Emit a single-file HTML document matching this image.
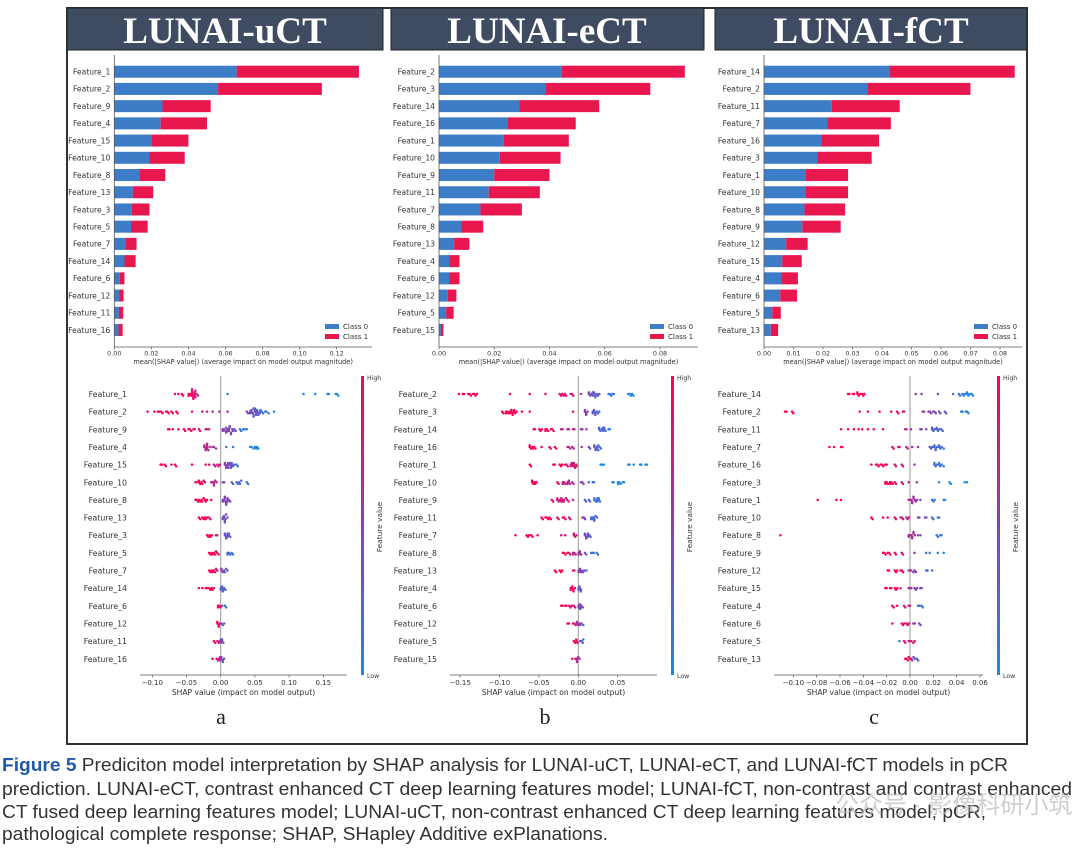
<!DOCTYPE html>
<html><head><meta charset="utf-8"><style>
html,body{margin:0;padding:0;background:#fff;width:1080px;height:849px;overflow:hidden}
svg{display:block}
</style></head><body>
<svg id="fig" width="1080" height="849" viewBox="0 0 1080 849" xmlns="http://www.w3.org/2000/svg">
<defs>
<linearGradient id="cbar" x1="0" y1="1" x2="0" y2="0">
<stop offset="0" stop-color="#1e88e5"/><stop offset="0.5" stop-color="#8a3fb5"/><stop offset="1" stop-color="#ff0052"/>
</linearGradient>
</defs>
<rect x="67" y="8" width="960" height="736" fill="none" stroke="#333" stroke-width="2"/>
<g><rect x="67" y="8" width="316" height="42" fill="#3f4b60" stroke="#222" stroke-width="1"/><text x="225" y="43" text-anchor="middle" font-family="Liberation Serif, serif" font-weight="bold" font-size="37" fill="#fff">LUNAI-uCT</text></g>
<g><rect x="391" y="8" width="313" height="42" fill="#3f4b60" stroke="#222" stroke-width="1"/><text x="547" y="43" text-anchor="middle" font-family="Liberation Serif, serif" font-weight="bold" font-size="37" fill="#fff">LUNAI-eCT</text></g>
<g><rect x="715" y="8" width="312" height="42" fill="#3f4b60" stroke="#222" stroke-width="1"/><text x="871" y="43" text-anchor="middle" font-family="Liberation Serif, serif" font-weight="bold" font-size="37" fill="#fff">LUNAI-fCT</text></g>
<g id="charts"></g>
<text x="221" y="724" text-anchor="middle" font-family="Liberation Serif, serif" font-size="22" fill="#222">a</text>
<text x="545" y="724" text-anchor="middle" font-family="Liberation Serif, serif" font-size="22" fill="#222">b</text>
<text x="874" y="724" text-anchor="middle" font-family="Liberation Serif, serif" font-size="22" fill="#222">c</text>
<g font-family="Liberation Sans, sans-serif" font-size="18" fill="#333">
<text x="2" y="771" textLength="1006" lengthAdjust="spacingAndGlyphs"><tspan fill="#1f5aa6" font-weight="bold">Figure 5</tspan>   Prediciton model interpretation by SHAP analysis for LUNAI-uCT, LUNAI-eCT, and LUNAI-fCT models in pCR</text>
<text x="2" y="795" textLength="1070" lengthAdjust="spacingAndGlyphs">prediction. LUNAI-eCT, contrast enhanced CT deep learning features model; LUNAI-fCT, non-contrast and contrast enhanced</text>
<text x="2" y="818" textLength="984" lengthAdjust="spacingAndGlyphs">CT fused deep learning features model; LUNAI-uCT, non-contrast enhanced CT deep learning features model; pCR,</text>
<text x="2" y="840" textLength="606" lengthAdjust="spacingAndGlyphs">pathological complete response; SHAP, SHapley Additive exPlanations.</text>
</g>
<text x="835" y="813" font-family="Liberation Sans, 'Noto Sans CJK SC', sans-serif" font-size="24" fill="#bbb" opacity="0.7">公众号 · 影像科研小筑</text>
</svg>
<script>
// ---------- Bar chart data (mean |SHAP|): class 0 and class 1 ----------
const barFeaturesA = ["Feature_1","Feature_2","Feature_9","Feature_4","Feature_15","Feature_10","Feature_8","Feature_13","Feature_3","Feature_5","Feature_7","Feature_14","Feature_6","Feature_12","Feature_11","Feature_16"];
const barClass0A = [0.066,0.056,0.026,0.025,0.020,0.019,0.0135,0.010,0.0095,0.009,0.006,0.0055,0.003,0.0028,0.0025,0.0023];
const barClass1A = [0.066,0.056,0.026,0.025,0.020,0.019,0.014,0.011,0.0095,0.009,0.006,0.006,0.0025,0.0022,0.0023,0.0022];
const barTicksA = [0,0.02,0.04,0.06,0.08,0.10,0.12];
const barTickLabelsA = ["0.00","0.02","0.04","0.06","0.08","0.10","0.12"];

const barFeaturesB = ["Feature_2","Feature_3","Feature_14","Feature_16","Feature_1","Feature_10","Feature_9","Feature_11","Feature_7","Feature_8","Feature_13","Feature_4","Feature_6","Feature_12","Feature_5","Feature_15"];
const barClass0B = [0.0445,0.0385,0.029,0.0247,0.0235,0.022,0.020,0.018,0.015,0.008,0.0055,0.0038,0.0038,0.0032,0.0026,0.0007];
const barClass1B = [0.0445,0.038,0.029,0.0248,0.0235,0.022,0.020,0.0185,0.015,0.008,0.0055,0.0036,0.0036,0.0031,0.0027,0.0009];
const barTicksB = [0,0.02,0.04,0.06,0.08];
const barTickLabelsB = ["0.00","0.02","0.04","0.06","0.08"];

const barFeaturesC = ["Feature_14","Feature_2","Feature_11","Feature_7","Feature_16","Feature_3","Feature_1","Feature_10","Feature_8","Feature_9","Feature_12","Feature_15","Feature_4","Feature_6","Feature_5","Feature_13"];
const barClass0C = [0.0425,0.035,0.023,0.0215,0.0195,0.018,0.014,0.014,0.0137,0.013,0.0075,0.0062,0.0058,0.0055,0.0028,0.0023];
const barClass1C = [0.0425,0.035,0.023,0.0215,0.0195,0.0185,0.0145,0.0145,0.0138,0.013,0.0073,0.0066,0.0057,0.0057,0.0029,0.0025];
const barTicksC = [0,0.01,0.02,0.03,0.04,0.05,0.06,0.07,0.08];
const barTickLabelsC = ["0.00","0.01","0.02","0.03","0.04","0.05","0.06","0.07","0.08"];

// ---------- Beeswarm data: per feature list of [shap, featureValue(0 low..1 high), count] ----------
const beeFeaturesA = barFeaturesA;
const beePointsA = [
 [[-0.065,1,1],[-0.06,1,1],[-0.055,1,2],[-0.045,1,4],[-0.04,0.9,10],[-0.035,0.7,4],[0.012,0.1,1],[0.123,0,1],[0.14,0,1],[0.158,0,2],[0.17,0,3]],
 [[-0.105,1,1],[-0.095,1,1],[-0.09,1,2],[-0.085,1,2],[-0.078,1,3],[-0.07,1,2],[-0.063,1,2],[-0.04,0.8,1],[-0.025,0.8,1],[-0.018,0.7,1],[-0.01,0.7,1],[0,0.6,1],[0.012,0.6,1],[0.04,0.5,2],[0.045,0.4,5],[0.05,0.3,8],[0.055,0.3,6],[0.06,0.2,3],[0.067,0.1,2],[0.072,0,1],[0.08,0,1]],
 [[-0.075,1,2],[-0.068,1,1],[-0.06,1,1],[-0.052,1,2],[-0.045,0.9,3],[-0.038,0.9,2],[-0.03,0.9,2],[-0.02,0.8,2],[-0.015,0.8,1],[0.005,0.5,4],[0.01,0.5,6],[0.015,0.4,5],[0.02,0.4,3],[0.03,0.1,2],[0.035,0.1,2],[0.04,0,1]],
 [[-0.022,0.7,6],[-0.018,0.7,4],[-0.01,0.6,2],[-0.005,0.6,1],[0.01,0.2,1],[0.02,0.1,1],[0.045,0,2],[0.05,0,3],[0.055,0,2]],
 [[-0.086,1,2],[-0.08,1,2],[-0.07,1,1],[-0.065,1,2],[-0.04,1,1],[-0.02,0.9,1],[-0.015,0.9,1],[-0.008,0.8,2],[-0.003,0.8,3],[0.008,0.5,6],[0.013,0.4,6],[0.018,0.3,4],[0.025,0.1,2]],
 [[-0.035,1,2],[-0.03,1,4],[-0.025,0.9,3],[-0.012,0.7,3],[-0.008,0.7,4],[0.005,0.5,2],[0.018,0.3,2],[0.025,0.2,3],[0.03,0.2,2],[0.04,0.1,2]],
 [[-0.035,1,3],[-0.03,1,3],[-0.025,1,3],[-0.02,1,2],[-0.012,1,1],[0.005,0.5,4],[0.008,0.5,6],[0.012,0.4,3]],
 [[-0.03,1,2],[-0.025,1,3],[-0.02,0.9,2],[-0.015,0.9,2],[0.005,0.4,5],[0.008,0.4,4]],
 [[-0.018,1,3],[-0.013,1,2],[-0.005,0.8,2],[0.008,0.4,5],[0.012,0.3,5]],
 [[-0.015,1,3],[-0.01,1,3],[-0.005,0.8,3],[0.012,0.2,4],[0.018,0.1,2]],
 [[-0.015,1,3],[-0.01,0.9,3],[-0.005,0.8,2],[0.003,0.5,4],[0.008,0.3,3]],
 [[-0.03,1,1],[-0.025,1,1],[-0.02,1,2],[-0.015,1,3],[-0.01,0.9,2],[0.002,0.3,5],[0.005,0.2,3]],
 [[-0.002,1,4],[0.004,0.2,1],[0.008,0.1,2]],
 [[-0.003,1,5],[0.003,0.3,2],[0.007,0.2,1]],
 [[-0.008,1,2],[-0.003,0.8,3],[0.002,0.4,5]],
 [[-0.01,1,1],[-0.004,0.9,3],[0.001,0.5,5],[0.005,0.3,2]]
];
const beeTicksA = [-0.10,-0.05,0,0.05,0.10,0.15];
const beeTickLabelsA = ["\u22120.10","\u22120.05","0.00","0.05","0.10","0.15"];

const beeFeaturesB = barFeaturesB;
const beePointsB = [
 [[-0.15,1,1],[-0.145,1,2],[-0.138,1,3],[-0.132,1,3],[-0.127,1,1],[-0.085,1,1],[-0.06,1,1],[-0.04,1,1],[-0.022,0.9,3],[-0.017,0.9,3],[-0.008,0.8,3],[0.005,0.7,1],[0.015,0.4,4],[0.02,0.3,6],[0.025,0.3,3],[0.04,0.1,3],[0.045,0.1,2],[0.065,0,3],[0.07,0,2]],
 [[-0.095,1,2],[-0.09,1,4],[-0.085,1,6],[-0.08,1,4],[-0.07,1,1],[-0.06,1,1],[-0.005,0.9,1],[0.01,0.5,5],[0.02,0.3,6],[0.025,0.2,3]],
 [[-0.055,1,2],[-0.048,1,3],[-0.04,1,4],[-0.033,0.9,3],[-0.02,0.8,2],[-0.012,0.7,2],[-0.005,0.7,2],[0.005,0.6,2],[0.012,0.6,1],[0.028,0.2,4],[0.033,0.2,5],[0.04,0.1,2]],
 [[-0.06,1,4],[-0.056,1,3],[-0.045,1,1],[-0.035,0.9,2],[-0.028,0.9,2],[-0.012,0.7,3],[-0.006,0.7,2],[0.006,0.6,1],[0.015,0.4,2],[0.022,0.3,6],[0.027,0.2,4]],
 [[-0.06,1,2],[-0.03,1,2],[-0.022,1,3],[-0.015,0.9,3],[-0.008,0.8,5],[-0.004,0.8,6],[0.03,0,2],[0.034,0,1],[0.065,0,2],[0.072,0,1],[0.08,0,2],[0.087,0,2]],
 [[-0.057,1,4],[-0.053,1,2],[-0.025,0.9,2],[-0.018,0.8,4],[-0.012,0.7,5],[-0.006,0.7,2],[0.005,0.5,3],[0.015,0.2,1],[0.02,0.2,2],[0.045,0,2],[0.052,0,4],[0.058,0,2]],
 [[-0.032,0.9,2],[-0.025,0.8,4],[-0.02,0.8,6],[-0.014,0.8,3],[-0.005,0.7,1],[0.01,0.3,2],[0.015,0.2,2],[0.022,0.2,4],[0.026,0.1,5]],
 [[-0.045,1,2],[-0.04,1,3],[-0.035,1,2],[-0.025,0.9,2],[-0.018,0.9,3],[-0.01,0.8,2],[0.007,0.5,3],[0.018,0.2,5],[0.022,0.2,4]],
 [[-0.078,1,1],[-0.064,1,3],[-0.058,1,2],[-0.05,1,1],[-0.02,0.9,1],[-0.015,0.9,1],[-0.004,0.8,4],[0.01,0.4,5],[0.014,0.3,4]],
 [[-0.018,1,3],[-0.012,0.9,3],[-0.005,0.7,4],[0.002,0.6,5],[0.01,0.3,2],[0.018,0.2,3],[0.025,0.1,2]],
 [[-0.028,1,2],[-0.022,1,3],[-0.005,0.8,2],[0.002,0.5,5],[0.006,0.4,3],[0.012,0.2,1]],
 [[-0.008,1,4],[-0.006,1,3],[0.002,0.3,4],[0.003,0.3,2]],
 [[-0.02,1,2],[-0.015,1,2],[-0.01,0.9,3],[-0.004,0.8,2],[0.002,0.5,5],[0.004,0.4,3]],
 [[-0.012,1,2],[-0.005,0.8,3],[0,0.6,4],[0.004,0.4,2],[0.008,0.2,1]],
 [[-0.004,1,3],[-0.001,0.8,2],[0.004,0.3,3],[0.008,0.2,1]],
 [[-0.006,1,1],[-0.002,0.8,2],[0.0,0.6,4]]
];
const beeTicksB = [-0.15,-0.10,-0.05,0,0.05];
const beeTickLabelsB = ["\u22120.15","\u22120.10","\u22120.05","0.00","0.05"];

const beeFeaturesC = barFeaturesC;
const beePointsC = [
 [[-0.052,1,2],[-0.048,1,2],[-0.044,1,4],[-0.04,1,2],[-0.038,1,1],[0.006,0.6,1],[0.011,0.5,1],[0.025,0.3,1],[0.038,0.1,1],[0.043,0.1,2],[0.046,0.1,3],[0.05,0,4],[0.054,0,2]],
 [[-0.106,1,2],[-0.1,1,2],[-0.042,1,1],[-0.035,1,1],[-0.025,1,1],[-0.015,0.9,1],[-0.01,0.9,2],[-0.005,0.8,2],[0.012,0.5,2],[0.017,0.5,3],[0.021,0.4,3],[0.026,0.3,2],[0.031,0.3,2],[0.045,0.1,2],[0.049,0,3]],
 [[-0.058,1,1],[-0.052,1,1],[-0.047,1,1],[-0.043,1,1],[-0.04,1,1],[-0.035,1,1],[-0.03,1,1],[-0.022,1,1],[-0.003,0.7,2],[0.002,0.6,1],[0.01,0.5,2],[0.015,0.4,1],[0.02,0.3,4],[0.024,0.2,4],[0.028,0.2,2]],
 [[-0.068,1,1],[-0.064,1,1],[-0.058,1,2],[-0.014,0.9,2],[-0.009,0.8,2],[-0.002,0.7,2],[0.003,0.6,1],[0.008,0.6,1],[0.018,0.3,3],[0.022,0.2,5],[0.026,0.2,4],[0.03,0.1,1]],
 [[-0.032,1,1],[-0.028,1,3],[-0.024,1,3],[-0.02,1,2],[-0.012,0.8,2],[-0.006,0.8,2],[0.005,0.6,1],[0.022,0.2,4],[0.026,0.1,4],[0.03,0.1,1]],
 [[-0.02,1,4],[-0.016,1,4],[-0.012,0.9,2],[-0.006,0.8,2],[0.0,0.7,1],[0.007,0.6,1],[0.026,0.1,1],[0.035,0,2],[0.048,0,1],[0.05,0,1]],
 [[-0.078,1,1],[-0.062,1,1],[-0.058,1,1],[0.0,0.7,3],[0.003,0.6,5],[0.006,0.5,2],[0.01,0.4,1],[0.02,0.1,3],[0.03,0,2]],
 [[-0.032,1,2],[-0.022,1,1],[-0.018,1,1],[-0.012,0.9,2],[-0.007,0.8,3],[-0.002,0.7,3],[0.008,0.5,2],[0.014,0.4,2],[0.02,0.2,2],[0.025,0.1,2]],
 [[-0.11,1,1],[0.0,0.7,4],[0.003,0.6,5],[0.008,0.5,1],[0.01,0.5,1],[0.024,0.1,2],[0.027,0.1,2]],
 [[-0.022,1,3],[-0.018,1,3],[-0.012,0.9,2],[-0.006,0.8,2],[0.005,0.6,1],[0.015,0.2,1],[0.018,0.2,1],[0.025,0.1,1],[0.03,0,1]],
 [[-0.018,1,2],[-0.012,1,3],[-0.007,0.9,3],[0.0,0.6,3],[0.004,0.5,3],[0.015,0.2,2],[0.02,0.2,1]],
 [[-0.02,1,2],[-0.016,1,2],[-0.012,1,3],[-0.007,0.9,1],[0.0,0.6,3],[0.005,0.5,3],[0.01,0.4,2]],
 [[-0.014,1,2],[-0.01,1,1],[-0.004,0.8,2],[0.0,0.7,2],[0.008,0.2,2],[0.011,0.1,2]],
 [[-0.014,1,1],[-0.006,0.9,3],[-0.002,0.8,3],[0.004,0.6,2],[0.009,0.4,2]],
 [[-0.008,0.1,1],[-0.004,0.9,2],[0.0,0.8,3],[0.004,0.9,2]],
 [[-0.003,1,3],[0.0,0.9,3],[0.003,0.4,3],[0.007,0.2,2]]
];
const beeTicksC = [-0.10,-0.08,-0.06,-0.04,-0.02,0,0.02,0.04,0.06];
const beeTickLabelsC = ["\u22120.10","\u22120.08","\u22120.06","\u22120.04","\u22120.02","0.00","0.02","0.04","0.06"];

const NS = "http://www.w3.org/2000/svg";
const root = document.getElementById('charts');
function mk(tag, attrs, parent){const e=document.createElementNS(NS,tag);for(const k in attrs)e.setAttribute(k,attrs[k]);(parent||root).appendChild(e);return e;}
function txt(parent,x,y,s,size,anchor,extra){const t=mk('text',Object.assign({x:x,y:y,'font-family':'DejaVu Sans, sans-serif','font-size':size,'text-anchor':anchor||'start',fill:'#333'},extra||{}),parent);t.textContent=s;return t;}
function lerp(a,b,t){return Math.round(a+(b-a)*t);}
function shapColor(v){const lo=[30,136,229],mid=[138,63,181],hi=[255,0,82];let a,b,t;if(v<0.5){a=lo;b=mid;t=v/0.5;}else{a=mid;b=hi;t=(v-0.5)/0.5;}return 'rgb('+lerp(a[0],b[0],t)+','+lerp(a[1],b[1],t)+','+lerp(a[2],b[2],t)+')';}

function barChart(name, feats, c0, c1, ticks, tickLabels, x0, xMaxPx, maxVal, axisRight, legendX){
  const g=mk('g',{});
  
  
  const xs=v=>x0+v/maxVal*(xMaxPx-x0);
  const yTop=55, y0=71.7, step=17.22, bh=12, yAxis=347;
  feats.forEach((f,i)=>{
    const y=y0+i*step;
    const r0=mk('rect',{x:xs(0),y:y-bh/2,width:xs(c0[i])-xs(0),height:bh,fill:'#3d7cc7'},g);
    
    
    const r1=mk('rect',{x:xs(c0[i]),y:y-bh/2,width:xs(c0[i]+c1[i])-xs(c0[i]),height:bh,fill:'#e8174e'},g);
    
    
    const lt=txt(g,x0-4,y+2.8,f,7.6,'end');
    
    
  });
  mk('line',{x1:x0,y1:yTop,x2:x0,y2:yAxis,stroke:'#555','stroke-width':0.8},g);
  mk('line',{x1:x0,y1:yAxis,x2:axisRight,y2:yAxis,stroke:'#555','stroke-width':0.8},g);
  ticks.forEach((t,i)=>{
    mk('line',{x1:xs(t),y1:yAxis,x2:xs(t),y2:yAxis+2.5,stroke:'#555','stroke-width':0.7},g);
    const tl=txt(g,xs(t),yAxis+8.5,tickLabels[i],6.4,'middle');
    
    
  });
  const xl=txt(g,(x0+axisRight)/2,yAxis+17,'mean(|SHAP value|) (average impact on model output magnitude)',6.6,'middle');
  
  
  const lg=mk('g',{},g);
  
  
  mk('rect',{x:legendX,y:324,width:14,height:5,fill:'#3d7cc7'},lg);
  mk('rect',{x:legendX,y:334,width:14,height:5,fill:'#e8174e'},lg);
  txt(lg,legendX+18,329,'Class 0',7,'start');
  txt(lg,legendX+18,339,'Class 1',7,'start');
}

function beeswarm(name, feats, pts, ticks, tickLabels, zeroX, refVal, refX, axL, axR, cbX){
  const g=mk('g',{});
  
  
  const sc=(refX-zeroX)/refVal;
  const xs=v=>zeroX+v*sc;
  const y0=394, step=17.65, yAxis=675;
  mk('line',{x1:xs(0),y1:376,x2:xs(0),y2:yAxis,stroke:'#999','stroke-width':1},g);
  feats.forEach((f,i)=>{
    const y=y0+i*step;
    const lt=txt(g,axL-13,y+3,f,7.8,'end');
    
    
    const bins={};
    pts[i].forEach(p=>{
      for(let k=0;k<p[2];k++){
        const px=xs(p[0])+(k%3-1)*1.3;
        const b=Math.round(px/2.5);
        const n=bins[b]||0; bins[b]=n+1;
        const off=(n%2?1:-1)*Math.ceil(n/2)*1.6;
        const d=mk('circle',{cx:px,cy:y+off,r:1.25,fill:shapColor(p[1])},g);
        
        
      }
    });
  });
  mk('line',{x1:axL,y1:yAxis,x2:axR,y2:yAxis,stroke:'#555','stroke-width':0.8},g);
  ticks.forEach((t,i)=>{
    mk('line',{x1:xs(t),y1:yAxis,x2:xs(t),y2:yAxis+2.5,stroke:'#555','stroke-width':0.7},g);
    const tl=txt(g,xs(t),yAxis+10,tickLabels[i],7,'middle');
    
    
  });
  const xl=txt(g,(axL+axR)/2,yAxis+20,'SHAP value (impact on model output)',7.6,'middle');
  
  
  const cb=mk('rect',{x:cbX,y:376,width:3,height:299,fill:'url(#cbar)'},g);
  
  
  txt(g,cbX+6,380,'High',6.2,'start');
  txt(g,cbX+6,678,'Low',6.2,'start');
  const fv=txt(g,0,0,'Feature value',7.4,'middle',{transform:'translate('+(cbX+21)+',527) rotate(-90)'});
  
  
}

barChart('bar-chart-uct', barFeaturesA, barClass0A, barClass1A, barTicksA, barTickLabelsA, 114.3, 336.7, 0.12, 372, 325);
barChart('bar-chart-ect', barFeaturesB, barClass0B, barClass1B, barTicksB, barTickLabelsB, 439, 660, 0.08, 698, 650);
barChart('bar-chart-fct', barFeaturesC, barClass0C, barClass1C, barTicksC, barTickLabelsC, 764, 1000, 0.08, 1022, 974);

beeswarm('beeswarm-uct', beeFeaturesA, beePointsA, beeTicksA, beeTickLabelsA, 220.7, 0.15, 323.3, 140, 347, 361);
beeswarm('beeswarm-ect', beeFeaturesB, beePointsB, beeTicksB, beeTickLabelsB, 578.3, 0.05, 617.7, 450, 657, 671);
beeswarm('beeswarm-fct', beeFeaturesC, beePointsC, beeTicksC, beeTickLabelsC, 910, 0.06, 980, 774, 983, 997);
</script>
</body></html>
